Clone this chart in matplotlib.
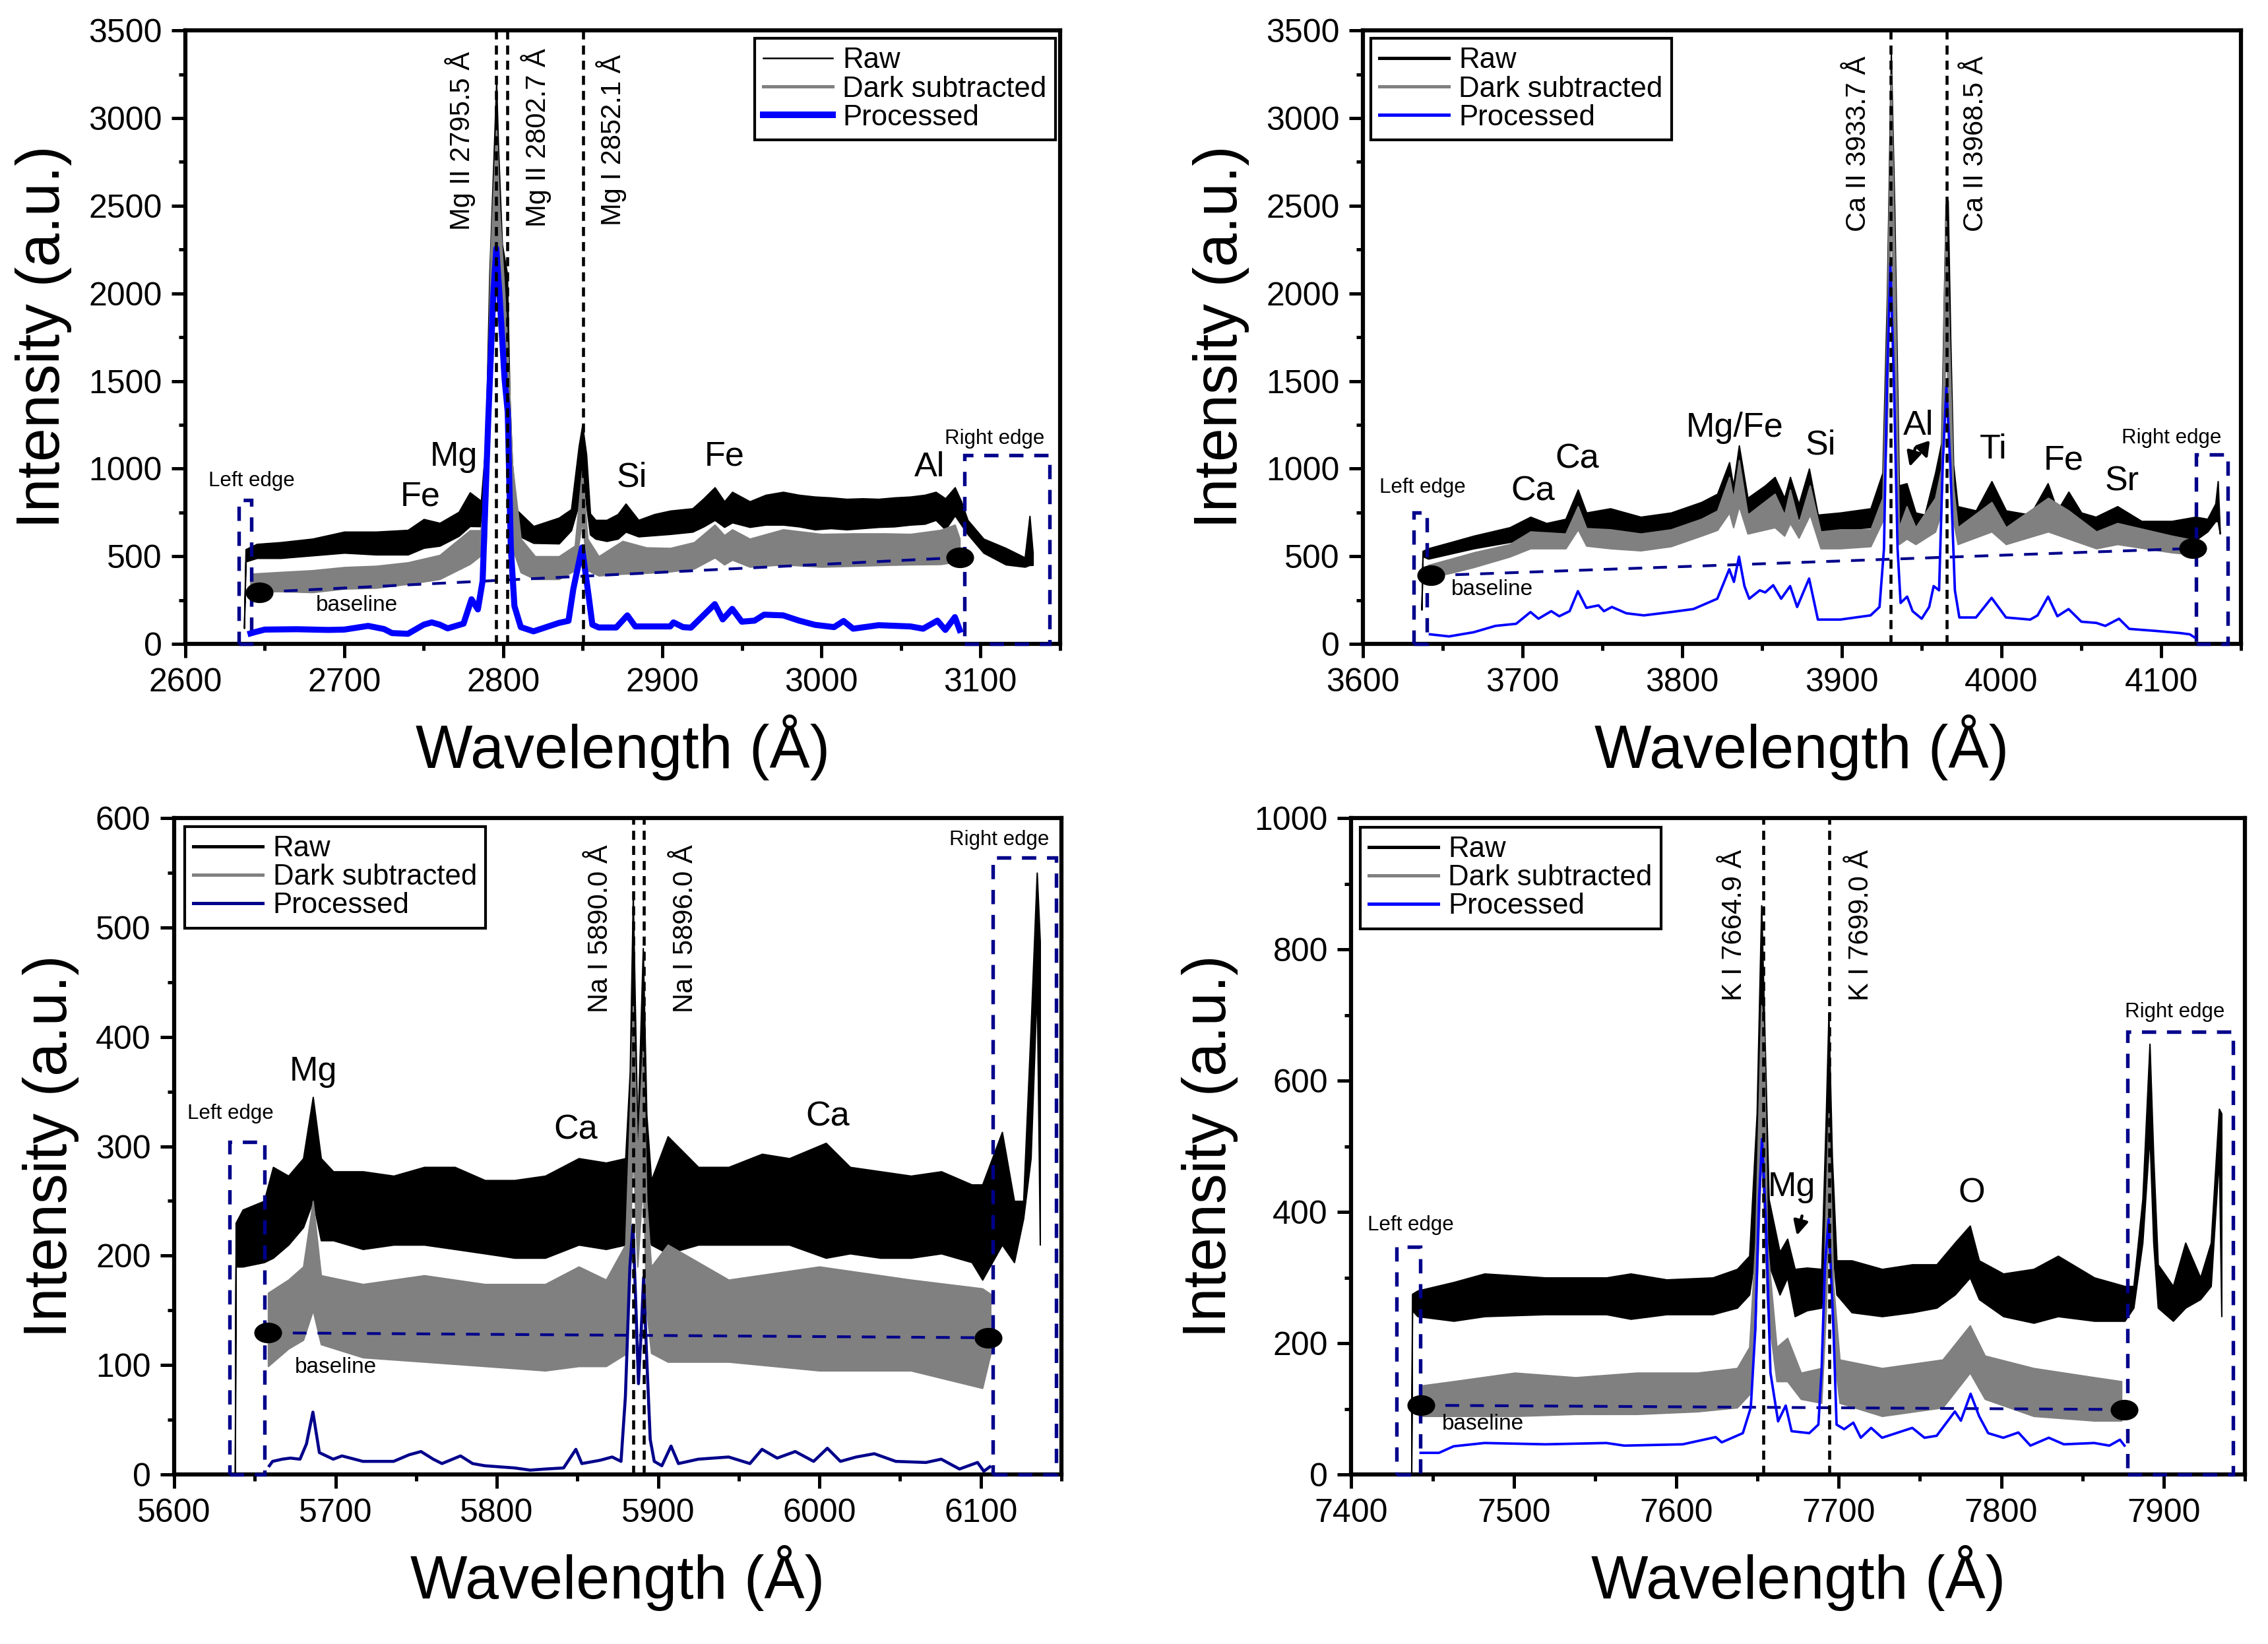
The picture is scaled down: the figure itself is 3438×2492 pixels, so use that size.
import matplotlib
matplotlib.use("Agg")
import matplotlib.pyplot as plt
from matplotlib.lines import Line2D
from matplotlib.patches import Rectangle
from matplotlib.markers import MarkerStyle
from matplotlib.transforms import Affine2D
from matplotlib.ticker import MultipleLocator

plt.rcParams['font.family'] = ['Liberation Sans', 'DejaVu Sans']

# ---------------- panel A : Mg region ----------------
a_raw_wl = [2637, 2638, 2645, 2660, 2680, 2700, 2720, 2740, 2750, 2760,
            2772, 2779, 2786, 2789, 2791.3, 2793.7, 2795.6, 2796.8, 2799.2, 2802.4,
            2804, 2805.5, 2808, 2819, 2835, 2842.7, 2847.5, 2849.7, 2852.2, 2854.6,
            2858, 2865, 2872, 2877, 2885, 2895, 2905, 2919, 2926, 2933,
            2939, 2944, 2955, 2965, 2976, 2986, 2996, 3006, 3016, 3026,
            3036, 3046, 3056, 3065, 3072, 3078, 3084, 3088, 3092, 3102,
            3116, 3128, 3131, 3133]
a_raw_lo = [90, 470, 490, 490, 505, 520, 510, 510, 548, 560,
            616, 672, 671, 792, 1512, 2232, 2712, 2232, 1752, 1512,
            912, 720, 624, 576, 573, 648, 800, 1032, 792, 624,
            600, 587, 600, 640, 613, 620, 627, 640, 670, 707,
            667, 693, 667, 680, 680, 670, 653, 660, 653, 660,
            667, 670, 680, 685, 707, 653, 733, 680, 627, 520,
            453, 440, 450, 450]
a_raw_hi = [100, 540, 570, 580, 600, 640, 640, 650, 712, 690,
            753, 864, 816, 1152, 2112, 2712, 3204, 2832, 2280, 2112,
            1392, 1032, 768, 672, 720, 768, 1128, 1248, 1080, 744,
            707, 707, 740, 800, 707, 740, 760, 773, 830, 893,
            813, 867, 813, 850, 867, 850, 840, 835, 827, 830,
            827, 835, 840, 850, 867, 830, 893, 813, 707, 600,
            547, 493, 730, 520]

a_dark_wl = [2641, 2660, 2680, 2700, 2720, 2740, 2760, 2779, 2785.8, 2789,
             2792, 2795.6, 2797.6, 2800.8, 2803, 2805.5, 2811, 2820, 2835, 2845,
             2849.5, 2853, 2860, 2875, 2890, 2905, 2920, 2933, 2939, 2944,
             2955, 2976, 3000, 3020, 3040, 3056, 3075, 3084, 3087]
a_dark_lo = [300, 300, 295, 315, 320, 342, 370, 456, 504, 552,
             1512, 2232, 1872, 1392, 1032, 552, 408, 370, 370, 420,
             700, 420, 390, 400, 405, 413, 430, 493, 453, 480,
             440, 453, 440, 445, 450, 453, 455, 467, 470]
a_dark_hi = [400, 410, 420, 438, 445, 465, 507, 648, 648, 912,
             2232, 2952, 2472, 1992, 1632, 1032, 600, 500, 500, 560,
             987, 600, 500, 587, 550, 547, 580, 680, 620, 653,
             600, 653, 627, 630, 630, 627, 650, 680, 600]

a_proc_wl = [2641, 2644, 2650, 2670, 2690, 2700, 2715, 2725, 2730, 2740,
             2750, 2755, 2760, 2765, 2775, 2780, 2784, 2787, 2790.5, 2793.7,
             2795.6, 2797.6, 2800.8, 2802.8, 2804.7, 2807, 2811, 2819, 2827, 2835,
             2841, 2844, 2849.5, 2853.8, 2856, 2860, 2871, 2878, 2883, 2905,
             2907, 2913, 2918, 2933, 2938, 2944, 2950, 2958, 2964, 2976,
             2986, 2996, 3008, 3014, 3020, 3036, 3056, 3064, 3073, 3078,
             3084, 3087]
a_proc = [60, 68, 82, 84, 80, 82, 103, 85, 62, 58,
          110, 123, 110, 89, 116, 255, 197, 360, 1272, 1992,
          2256, 1992, 1512, 1320, 552, 216, 96, 72, 96, 120,
          132, 312, 550, 264, 110, 94, 94, 163, 100, 100,
          123, 96, 93, 227, 140, 200, 127, 133, 167, 163,
          133, 109, 96, 131, 87, 107, 100, 87, 133, 80,
          153, 80]
a_base_wl = [2646.5, 3087]
a_base = [295, 493]

# ---------------- panel B : Ca region ----------------
b_raw_wl = [3636.8, 3637.5, 3641, 3655, 3669.5, 3692, 3705, 3715, 3727, 3734.7,
            3740, 3755, 3774, 3793, 3812, 3822, 3829.5, 3832, 3835.6, 3841,
            3852, 3858, 3864, 3867.6, 3873, 3879.5, 3885, 3899, 3918, 3925.5,
            3928.3, 3930.8, 3933, 3935.8, 3940.6, 3946.2, 3951.9, 3958.5, 3962.3, 3965.1,
            3966.4, 3968, 3969.8, 3972.6, 3984, 3993.8, 4002.8, 4018, 4029, 4035,
            4042, 4050, 4059, 4072.6, 4087.7, 4106.6, 4121.7, 4129, 4134, 4135.5,
            4136.8]
b_raw_lo = [195, 500, 486, 515, 545, 581, 605, 605, 629, 713,
            653, 653, 629, 653, 713, 749, 833, 749, 928, 749,
            761, 785, 725, 785, 713, 856, 645, 653, 665, 785,
            1300, 2699, 1502, 665, 713, 641, 629, 785, 880, 1981,
            2100, 1263, 785, 665, 641, 749, 641, 617, 737, 665,
            689, 617, 605, 641, 593, 581, 593, 641, 700, 700,
            629]
b_raw_hi = [205, 530, 545, 580, 617, 665, 725, 689, 713, 880,
            749, 773, 725, 749, 809, 856, 1036, 900, 1132, 833,
            904, 952, 833, 952, 797, 1000, 737, 749, 773, 976,
            1981, 3368, 2459, 904, 916, 749, 737, 976, 1144, 2507,
            2530, 1742, 1024, 785, 761, 928, 761, 737, 916, 761,
            868, 749, 725, 785, 701, 701, 725, 713, 800, 928,
            640]

b_dark_wl = [3641, 3655, 3669.5, 3692, 3705, 3727, 3734.7, 3740, 3755, 3774,
             3793, 3812, 3822, 3829.5, 3832, 3835.6, 3841, 3858, 3864, 3867.6,
             3873, 3880, 3886.7, 3899, 3918, 3925.5, 3928.3, 3930.8, 3933, 3935.8,
             3940.6, 3946.2, 3958.5, 3962.3, 3965.1, 3968, 3969.8, 3972.6, 3993.8, 4002.8,
             4029.2, 4042, 4059.4, 4072.6, 4106.6, 4119.8]
b_dark_lo = [378, 405, 438, 498, 545, 545, 653, 560, 545, 533,
             557, 617, 650, 749, 665, 785, 629, 665, 617, 689,
             605, 737, 545, 545, 557, 700, 1200, 2579, 1400, 569,
             600, 569, 640, 750, 1742, 1100, 700, 569, 641, 569,
             641, 600, 545, 569, 522, 510]
b_dark_hi = [450, 485, 522, 569, 641, 629, 785, 660, 653, 629,
             653, 713, 760, 952, 830, 1048, 737, 856, 737, 880,
             689, 904, 641, 653, 653, 833, 1800, 3249, 2220, 665,
             785, 665, 833, 1000, 2459, 1502, 904, 665, 809, 665,
             833, 761, 641, 689, 617, 593]

b_proc_wl = [3642, 3654, 3669.5, 3683, 3696, 3705, 3710, 3718, 3723, 3729.5,
             3734.7, 3740, 3747.6, 3751, 3756, 3765, 3776, 3793, 3807, 3822,
             3829.5, 3832.4, 3835.6, 3839, 3842, 3848.6, 3852, 3857, 3862, 3867.6,
             3872, 3879.5, 3885, 3899, 3918, 3923.6, 3926.4, 3928.3, 3930.4, 3932.6,
             3934.9, 3936.8, 3940.9, 3944.3, 3950, 3954.7, 3957.5, 3960.9, 3963.2, 3965.5,
             3967.9, 3970.8, 3973.6, 3984, 3993.8, 4002.8, 4018, 4022.6, 4029.2, 4035,
             4042, 4050, 4059.4, 4065, 4073.6, 4080, 4097, 4112, 4117.9, 4120.8]
b_proc = [55, 43, 67, 103, 115, 182, 144, 187, 158, 187,
          301, 206, 220, 187, 211, 175, 163, 182, 199, 258,
          426, 354, 498, 330, 258, 306, 294, 335, 258, 330,
          211, 373, 139, 139, 163, 211, 545, 1502, 2172, 1502,
          545, 234, 270, 187, 144, 211, 330, 306, 1024, 1467,
          1024, 306, 151, 151, 263, 151, 139, 163, 270, 158,
          199, 127, 120, 103, 144, 86, 74, 62, 55, 38]
b_base_wl = [3642.5, 4119.8]
b_base = [390, 545]

# ---------------- panel C : Na region ----------------
c_raw_wl = [5637.7, 5638.2, 5642.5, 5655.7, 5661.3, 5670.8, 5680, 5686, 5691, 5698.6,
            5717, 5736, 5755, 5774, 5792.6, 5811, 5830, 5850.8, 5867.7, 5879.7,
            5882.5, 5884.4, 5887.2, 5890.6, 5892.8, 5895.7, 5906, 5924.9, 5943.7, 5964.4,
            5981.3, 6004, 6019, 6037.9, 6056.7, 6075.5, 6094.4, 6101, 6113.2, 6120.7,
            6126.4, 6131, 6134.8, 6136.7]
c_raw_lo = [0, 190, 190, 194, 198, 210, 226, 250, 214, 214,
            206, 210, 210, 206, 202, 198, 198, 210, 206, 210,
            269, 408, 261, 368, 230, 210, 202, 210, 210, 210,
            210, 198, 202, 198, 198, 202, 194, 178, 210, 194,
            234, 289, 448, 210]
c_raw_hi = [5, 230, 242, 250, 281, 273, 289, 345, 289, 277,
            277, 273, 281, 281, 269, 269, 273, 289, 285, 289,
            368, 529, 309, 481, 329, 269, 309, 281, 281, 293,
            289, 303, 281, 277, 273, 277, 265, 265, 313, 250,
            250, 408, 550, 487]

c_dark_wl = [5658.2, 5670.8, 5680, 5686, 5691, 5717, 5755, 5792.6, 5830, 5850.8,
             5867.7, 5879.7, 5882.5, 5884.4, 5887.2, 5890.6, 5892.8, 5895.7, 5906, 5943.7,
             6000, 6056.7, 6101, 6106]
c_dark_lo = [99, 115, 123, 150, 119, 107, 103, 99, 95, 99,
             99, 110, 210, 297, 190, 269, 150, 111, 103, 103,
             95, 95, 79, 110]
c_dark_hi = [166, 178, 190, 250, 182, 174, 182, 174, 174, 190,
             178, 210, 329, 428, 289, 392, 250, 190, 210, 178,
             190, 178, 170, 165]

c_proc_wl = [5659, 5661, 5667, 5672, 5678, 5682, 5686, 5690, 5698.6, 5704,
             5717, 5736, 5745.6, 5753, 5760.6, 5766, 5777.5, 5785, 5792.6, 5811,
             5820.7, 5830, 5841.4, 5849, 5852.7, 5864, 5871.5, 5877, 5879.7, 5882.5,
             5884.4, 5886.3, 5887.8, 5889.5, 5891, 5892.8, 5895.1, 5897.6, 5902.3, 5908,
             5912.6, 5924.9, 5943.7, 5956.9, 5964.4, 5973.8, 5985, 5996.4, 6004.9, 6013,
             6022.8, 6034, 6047.3, 6066, 6075.5, 6086.8, 6098, 6101.9, 6105.6]
c_proc = [8, 12, 14, 15, 14, 28, 57, 20, 14, 17,
          12, 12, 18, 21, 14, 10, 17, 10, 8, 6,
          4, 5, 6, 23, 10, 13, 16, 12, 71, 190,
          228, 150, 83, 131, 180, 111, 32, 12, 8, 26,
          10, 14, 16, 10, 23, 15, 21, 12, 24, 12,
          16, 19, 12, 11, 14, 5, 11, 3, 7]
c_base_wl = [5658.2, 6104.7]
c_base = [129.5, 125]

# ---------------- panel D : K region ----------------
d_raw_wl = [7437, 7437.5, 7440.8, 7463, 7482, 7519.5, 7557, 7572, 7594, 7622.5,
            7637.5, 7645, 7649.6, 7652.4, 7654.3, 7657, 7663.7, 7668.4, 7673, 7680.5,
            7689.4, 7692.2, 7693.8, 7695.9, 7698.7, 7708, 7726.7, 7745.3, 7760.3, 7771.5,
            7780.8, 7786.4, 7801.3, 7820, 7835, 7857.3, 7876, 7881.5, 7887, 7891.4,
            7893.7, 7896.5, 7905.8, 7913.4, 7922.6, 7929.1, 7934.1, 7935.6]
d_raw_lo = [0, 250, 241, 234, 241, 244, 244, 237, 244, 244,
            254, 274, 353, 682, 485, 320, 274, 300, 241, 250,
            254, 400, 550, 353, 274, 247, 241, 247, 254, 274,
            300, 267, 241, 231, 241, 234, 234, 254, 353, 517,
            353, 254, 234, 254, 267, 287, 485, 241]
d_raw_hi = [5, 275, 280, 293, 306, 300, 300, 306, 297, 300,
            313, 333, 550, 867, 682, 419, 339, 359, 313, 315,
            313, 550, 702, 485, 326, 326, 313, 320, 320, 353,
            379, 326, 306, 313, 333, 300, 287, 287, 419, 656,
            485, 320, 287, 353, 300, 353, 557, 550]

d_dark_wl = [7441.8, 7463, 7500.7, 7538, 7575.7, 7613, 7637.5, 7645, 7648.7, 7652.4,
             7654, 7656, 7661.8, 7668.4, 7676.8, 7689.4, 7692.2, 7693.8, 7696.8, 7700.6,
             7726.7, 7764, 7780.8, 7790, 7820, 7857.3, 7874]
d_dark_lo = [89, 89, 89, 92, 92, 96, 102, 122, 221, 485,
             400, 254, 142, 142, 115, 109, 250, 386, 188, 109,
             89, 102, 155, 115, 89, 82, 82]
d_dark_hi = [135, 142, 155, 148, 155, 155, 162, 194, 353, 715,
             669, 353, 194, 208, 155, 162, 419, 550, 287, 175,
             162, 175, 227, 181, 162, 148, 142]

d_proc_wl = [7442.7, 7454, 7463, 7482, 7519.5, 7557, 7568, 7604, 7624.3, 7628,
             7641, 7645.9, 7648.7, 7651, 7652.8, 7655.2, 7658, 7662.7, 7667.4, 7671,
             7681.9, 7687.5, 7689.4, 7691.6, 7693.8, 7696.8, 7698.7, 7703.4, 7709, 7713.6,
             7720, 7726.7, 7745.3, 7752.8, 7760.3, 7771.5, 7775.2, 7781.2, 7786.4, 7792,
             7801.3, 7810.6, 7818, 7829.3, 7838.6, 7857.3, 7866.6, 7873.1, 7875.9]
d_proc = [33, 33, 43, 48, 46, 48, 44, 46, 57, 49,
          63, 102, 221, 419, 511, 386, 155, 81, 105, 66,
          63, 76, 155, 320, 389, 221, 76, 69, 79, 56,
          71, 56, 71, 56, 59, 96, 82, 123, 89, 63,
          56, 64, 44, 56, 46, 48, 44, 53, 44]
d_base_wl = [7442.7, 7875.6]
d_base = [105.5, 99]

NAVY = '#00008B'
GRAY = '#808080'
dot = MarkerStyle('o', transform=Affine2D().scale(1.4, 1.0))

panels = [
    dict(rect=[0.0817, 0.6083, 0.3856, 0.3732], xlim=(2600, 3150), ylim=(0, 3500),
         ymaj=500, ymin=250,
         raw=(a_raw_wl, a_raw_lo, a_raw_hi), dark=(a_dark_wl, a_dark_lo, a_dark_hi),
         proc=(a_proc_wl, a_proc), base=(a_base_wl, a_base),
         proc_color='#0000FF', proc_lw=2.2, leg_lw=(0.6, 1.2, 2.4),
         leg_loc='upper right', leg_anchor=(0.995, 0.987),
         edges=[(2633.5, 2641.5, 819), (3090, 3143.5, 1075)],
         edge_txt=[('Left edge', 2641.7, 931), ('Right edge', 3109, 1171)],
         base_txt=(2708, 219),
         vlines=[2795.5, 2802.7, 2850.2],
         vlabels=[('Mg II 2795.5 Å', 2772.8, 2360), ('Mg II 2802.7 Å', 2820.6, 2380),
                  ('Mg I 2852.1 Å', 2868, 2385)],
         notes=[('Fe', 2747.8, 840), ('Mg', 2769, 1068), ('Si', 2880.7, 948),
                ('Fe', 2939, 1068), ('Al', 3068, 1007)],
         arrows=[]),
    dict(rect=[0.6009, 0.6083, 0.3872, 0.3732], xlim=(3600, 4150), ylim=(0, 3500),
         ymaj=500, ymin=250,
         raw=(b_raw_wl, b_raw_lo, b_raw_hi), dark=(b_dark_wl, b_dark_lo, b_dark_hi),
         proc=(b_proc_wl, b_proc), base=(b_base_wl, b_base),
         proc_color='#0000FF', proc_lw=0.9, leg_lw=(1.2, 1.2, 1.2),
         leg_loc='upper left', leg_anchor=(0.009, 0.987),
         edges=[(3632, 3640, 749), (4121.7, 4141.9, 1079)],
         edge_txt=[('Left edge', 3637.5, 892), ('Right edge', 4106.6, 1175)],
         base_txt=(3681, 311),
         vlines=[3930.4, 3965.5],
         vlabels=[('Ca II 3933.7 Å', 3910.4, 2352), ('Ca II 3968.5 Å', 3984, 2352)],
         notes=[('Ca', 3706.7, 868), ('Ca', 3734, 1053), ('Mg/Fe', 3833, 1234),
                ('Si', 3886.8, 1132), ('Al', 3948, 1244), ('Ti', 3995, 1108),
                ('Fe', 4039, 1048), ('Sr', 4075.5, 928)],
         arrows=[((3947, 1148), (3941.5, 981)), ((3950, 1148), (3954.7, 1024))]),
    dict(rect=[0.0768, 0.1031, 0.3912, 0.3993], xlim=(5600, 6150), ylim=(0, 600),
         ymaj=100, ymin=50,
         raw=(c_raw_wl, c_raw_lo, c_raw_hi), dark=(c_dark_wl, c_dark_lo, c_dark_hi),
         proc=(c_proc_wl, c_proc), base=(c_base_wl, c_base),
         proc_color=NAVY, proc_lw=1.1, leg_lw=(1.2, 1.2, 1.2),
         leg_loc='upper left', leg_anchor=(0.012, 0.987),
         edges=[(5634.3, 5656.2, 304), (6107.5, 6146.7, 564)],
         edge_txt=[('Left edge', 5634.9, 330), ('Right edge', 6111.5, 580)],
         base_txt=(5700, 98),
         vlines=[5884.7, 5891.3],
         vlabels=[('Na I 5890.0 Å', 5864, 422), ('Na I 5896.0 Å', 5917, 422)],
         notes=[('Mg', 5686.4, 368), ('Ca', 5849, 315), ('Ca', 6005, 327)],
         arrows=[]),
    dict(rect=[0.5958, 0.1031, 0.394, 0.3993], xlim=(7400, 7950), ylim=(0, 1000),
         ymaj=200, ymin=100,
         raw=(d_raw_wl, d_raw_lo, d_raw_hi), dark=(d_dark_wl, d_dark_lo, d_dark_hi),
         proc=(d_proc_wl, d_proc), base=(d_base_wl, d_base),
         proc_color='#0000FF', proc_lw=0.9, leg_lw=(1.2, 1.2, 1.2),
         leg_loc='upper left', leg_anchor=(0.010, 0.986),
         edges=[(7428, 7442.3, 347), (7877.8, 7942.7, 674)],
         edge_txt=[('Left edge', 7436.7, 380), ('Right edge', 7906.7, 705)],
         base_txt=(7481, 77),
         vlines=[7653.6, 7694.4],
         vlabels=[('K I 7664.9 Å', 7635.6, 722), ('K I 7699.0 Å', 7713.6, 722)],
         notes=[('Mg', 7671, 438), ('O', 7781.7, 428)],
         arrows=[((7678.3, 402), (7673.4, 356))]),
]

fig = plt.figure(figsize=(11.46, 8.3067), dpi=300)

for p in panels:
    ax = fig.add_axes(p['rect'])
    wl, lo, hi = p['raw']
    ax.fill_between(wl, lo, hi, facecolor='black', edgecolor='black', lw=0.5, zorder=2)
    wl, lo, hi = p['dark']
    ax.fill_between(wl, lo, hi, facecolor=GRAY, edgecolor=GRAY, lw=0.5, zorder=3)
    ax.plot(*p['proc'], color=p['proc_color'], lw=p['proc_lw'], zorder=6)
    ax.plot(*p['base'], color=NAVY, lw=1.0, ls=(0, (5, 4)), zorder=5)
    ax.plot(*p['base'], ls='none', marker=dot, ms=6.5, color='black', zorder=7)

    # detector edge boxes
    for x0, x1, top in p['edges']:
        ax.add_patch(Rectangle((x0, 0), x1 - x0, top, fill=False, edgecolor=NAVY,
                               lw=1.3, ls=(0, (4, 3)), zorder=4, clip_on=False))
    for txt, x, y in p['edge_txt']:
        ax.text(x, y, txt, fontsize=7.5, ha='center', va='center')
    ax.text(*p['base_txt'], 'baseline', fontsize=8, ha='center', va='center')

    # line identifications
    for x in p['vlines']:
        ax.axvline(x, color='black', lw=1.1, ls=(0, (3, 2)), zorder=8)
    for txt, x, y in p['vlabels']:
        ax.text(x, y, txt, rotation=90, fontsize=10, ha='center', va='bottom')
    for txt, x, y in p['notes']:
        ax.text(x, y, txt, fontsize=12.5, ha='center', va='center')
    for (x0, y0), (x1, y1) in p['arrows']:
        ax.annotate('', xy=(x1, y1), xytext=(x0, y0),
                    arrowprops=dict(arrowstyle='-|>', color='black', lw=1.1,
                                    mutation_scale=11))

    ax.set_xlim(*p['xlim'])
    ax.set_ylim(*p['ylim'])
    ax.xaxis.set_major_locator(MultipleLocator(100))
    ax.xaxis.set_minor_locator(MultipleLocator(50))
    ax.yaxis.set_major_locator(MultipleLocator(p['ymaj']))
    ax.yaxis.set_minor_locator(MultipleLocator(p['ymin']))
    ax.tick_params(which='both', direction='out', width=1.2, labelsize=12,
                   top=False, right=False)
    ax.tick_params(which='major', length=5)
    ax.tick_params(which='minor', length=2.5)
    for s in ax.spines.values():
        s.set_linewidth(1.5)
    ax.set_xlabel('Wavelength (Å)', fontsize=22, labelpad=6)
    ax.set_ylabel('Intensity (a.u.)', fontsize=22, labelpad=6)

    lw_r, lw_d, lw_p = p['leg_lw']
    handles = [Line2D([], [], color='black', lw=lw_r),
               Line2D([], [], color=GRAY, lw=lw_d),
               Line2D([], [], color=p['proc_color'], lw=lw_p)]
    leg = ax.legend(handles, ['Raw', 'Dark subtracted', 'Processed'],
                    loc=p['leg_loc'], bbox_to_anchor=p['leg_anchor'],
                    borderaxespad=0, fontsize=10.5, frameon=True, fancybox=False,
                    edgecolor='black', framealpha=1, labelspacing=0.05,
                    handlelength=2.4, handletextpad=0.35, borderpad=0.3)
    leg.get_frame().set_linewidth(1.0)
    leg.set_zorder(10)

fig.savefig('out.png', dpi=300)
